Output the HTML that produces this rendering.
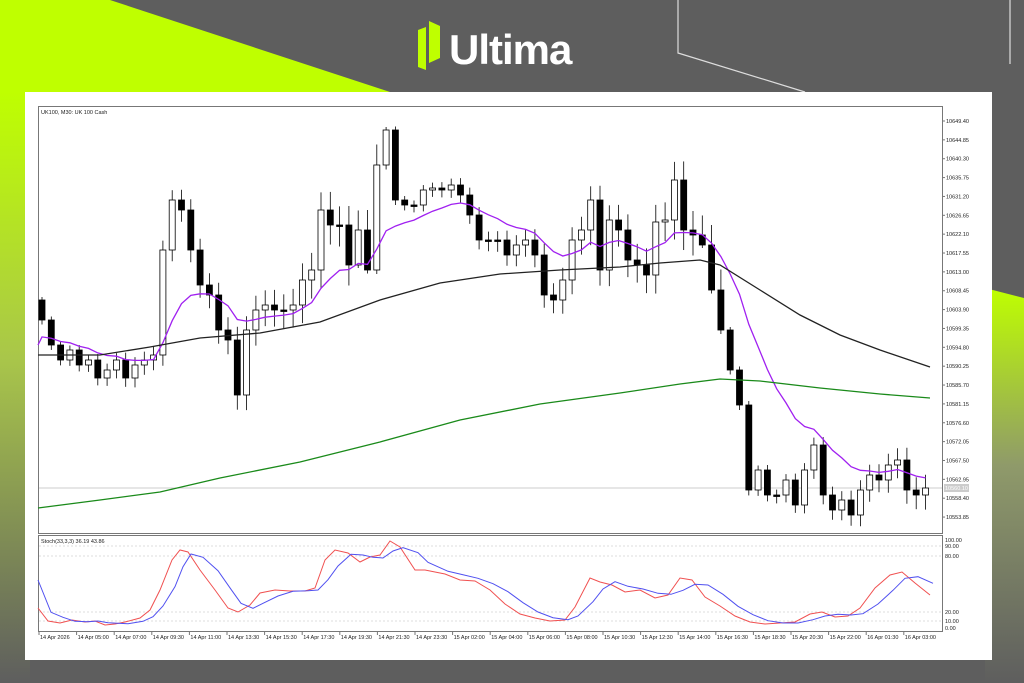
<!DOCTYPE html><html><head><meta charset="utf-8"><style>
html,body{margin:0;padding:0;width:1024px;height:683px;overflow:hidden;background:#5e5e5e}
svg{display:block}
text{font-family:"Liberation Sans",sans-serif}
</style></head><body>
<svg id="s" width="1024" height="683" xmlns="http://www.w3.org/2000/svg">
<defs>
<linearGradient id="gl" x1="0" y1="0" x2="0" y2="1"><stop offset="0" stop-color="#bfff00"/><stop offset="0.45" stop-color="#a9c64a"/><stop offset="1" stop-color="#5e5e5e"/></linearGradient>
<linearGradient id="gr" x1="0" y1="0" x2="0" y2="1"><stop offset="0" stop-color="#bfff00"/><stop offset="0.45" stop-color="#8f9a6a"/><stop offset="1" stop-color="#5e5e5e"/></linearGradient>
</defs>
<rect width="1024" height="683" fill="#5e5e5e"/>
<polygon points="0,0 110,0 390,92 0,92" fill="#bfff00"/>
<rect x="0" y="92" width="30" height="591" fill="url(#gl)"/>
<polygon points="985,288 1024,298 1024,683 985,683" fill="url(#gr)"/>
<polyline points="678,0 678,53 805,92" fill="none" stroke="#ddd" stroke-width="1.2"/>
<polyline points="1010,0 1010,64" fill="none" stroke="#ddd" stroke-width="1.2"/>
<polygon points="418,30 426,27 426,70 418,67" fill="#bfff00"/>
<polygon points="429,21 440,26 440,58 429,63" fill="#bfff00"/>
<text x="449" y="64" font-size="42" font-weight="bold" fill="#fff" letter-spacing="-1">Ultima</text>
<rect x="25" y="92" width="967" height="568" fill="#fff"/>
<rect x="38.5" y="106.5" width="904" height="427" fill="none" stroke="#777"/>
<rect x="38.5" y="535.5" width="904" height="96" fill="none" stroke="#777"/>
<text x="41" y="114" font-size="5.5" fill="#222">UK100, M30: UK 100 Cash</text>
<text x="41" y="543" font-size="5.5" fill="#222">Stoch(33,3,3) 36.19 43.86</text>
<line x1="39" y1="488" x2="942" y2="488" stroke="#bbb" stroke-width="0.8"/>
<g id="g"></g>
</svg>
<script>
(function(){
var g=document.getElementById('g'),h='';
var C=[320,345,360,350,365,360,378,370,360,378,365,360,355,250,200,210,250,285,295,330,340,395,330,310,305,310,310,305,280,270,210,225,225,265,230,270,165,130,200,205,205,190,188,190,185,195,215,240,240,240,255,245,240,255,295,300,280,240,230,200,270,220,230,260,265,275,222,220,180,230,235,245,290,330,370,405,490,470,495,495,480,505,470,445,495,510,500,515,490,475,480,465,460,490,495,488];
var prev=300,ema=340,pts=[];
function r(i){return ((i*7919)%37)/37;}
for(var i=0;i<C.length;i++){var x=42+i*9.3,o=prev,c=C[i];var t0=Math.min(o,c),b0=Math.max(o,c);if(b0-t0<1.5)b0=t0+1.5;
var hi=t0-3-r(i)*18,lo=b0+3+r(i+3)*18;
h+='<line x1="'+x+'" y1="'+hi+'" x2="'+x+'" y2="'+lo+'" stroke="#000" stroke-width="0.8"/>';
h+='<rect x="'+(x-3)+'" y="'+t0+'" width="6" height="'+(b0-t0)+'" fill="'+(c<o?'#fff':'#000')+'" stroke="#000" stroke-width="0.8"/>';
prev=c;ema=ema+(c-ema)*2/13;pts.push(x+','+ema.toFixed(1));}
h+='<polyline points="38,345 '+pts.join(' ')+'" fill="none" stroke="#a020f0" stroke-width="1.3"/>';
h+='<polyline points="38,355 100,355 150,347 200,338 260,333 320,322 380,300 440,283 500,274 560,270 620,267 660,263 700,260 720,265 760,290 800,315 840,335 880,350 930,367" fill="none" stroke="#222" stroke-width="1.3"/>';
h+='<polyline points="38,508 100,500 160,492 220,478 300,462 380,442 460,420 540,404 620,393 680,384 720,379 760,381 820,388 880,394 930,398" fill="none" stroke="#1a8a1a" stroke-width="1.3"/>';
var R=[[38,608],[48,621],[60,623],[72,620],[85,622],[95,621],[105,625],[115,624],[125,622],[140,618],[150,610],[160,590],[172,560],[180,550],[188,552],[200,570],[215,590],[228,608],[238,612],[250,605],[260,593],[275,590],[290,591],[305,591],[315,588],[325,560],[335,550],[348,553],[360,562],[370,557],[380,555],[390,541],[400,547],[415,570],[425,570],[445,574],[460,580],[475,581],[490,590],[505,604],[520,614],[535,618],[550,621],[565,620],[575,607],[590,578],[600,582],[612,585],[625,592],[640,590],[655,598],[668,595],[680,578],[692,580],[705,597],[720,606],[735,616],[750,622],[765,624],[780,623],[795,622],[810,614],[822,612],[835,617],[848,616],[860,608],[875,588],[890,575],[902,572],[915,583],[930,595]];
var rp=R.map(function(p){return p.join(',')}).join(' ');
var B=R.map(function(p,i){var a=R[Math.max(0,i-1)][1],b=R[Math.max(0,i-2)][1];return [p[0]+3,((p[1]+a+b)/3).toFixed(1)].join(',')});
B[0]='38,580';
[[540,'100.00'],[546,'90.00'],[556,'80.00'],[612,'20.00'],[621,'10.00'],[628,'0.00']].forEach(function(l){
if(l[1]!='100.00'&&l[1]!='0.00')h+='<line x1="39" y1="'+l[0]+'" x2="942" y2="'+l[0]+'" stroke="#bbb" stroke-width="0.6" stroke-dasharray="2,2"/>';
h+='<text x="945" y="'+(l[0]+2)+'" font-size="5.5" fill="#222">'+l[1]+'</text>';});
h+='<polyline points="'+rp+'" fill="none" stroke="#f05050" stroke-width="1"/>';
h+='<polyline points="'+B.join(' ')+'" fill="none" stroke="#5050f0" stroke-width="1"/>';
var P=['10649.40','10644.85','10640.30','10635.75','10631.20','10626.65','10622.10','10617.55','10613.00','10608.45','10603.90','10599.35','10594.80','10590.25','10585.70','10581.15','10576.60','10572.05','10567.50','10562.95','10558.40','10553.85'];
P.forEach(function(p,i){var y=121+i*18.86;h+='<line x1="942" y1="'+y+'" x2="945" y2="'+y+'" stroke="#777"/><text x="946" y="'+(y+2)+'" font-size="5.5" fill="#222">'+p+'</text>';});
h+='<rect x="944" y="484" width="25" height="8" fill="#ccc"/><text x="945" y="490" font-size="5.5" fill="#fff">10560.10</text>';
var T=['14 Apr 2026','14 Apr 05:00','14 Apr 07:00','14 Apr 09:30','14 Apr 11:00','14 Apr 13:30','14 Apr 15:30','14 Apr 17:30','14 Apr 19:30','14 Apr 21:30','14 Apr 23:30','15 Apr 02:00','15 Apr 04:00','15 Apr 06:00','15 Apr 08:00','15 Apr 10:30','15 Apr 12:30','15 Apr 14:00','15 Apr 16:30','15 Apr 18:30','15 Apr 20:30','15 Apr 22:00','16 Apr 01:30','16 Apr 03:00'];
T.forEach(function(t,i){var x=40+i*37.6;h+='<line x1="'+(x-1)+'" y1="632" x2="'+(x-1)+'" y2="635" stroke="#777"/><text x="'+x+'" y="639" font-size="5.5" fill="#222">'+t+'</text>';});
g.innerHTML=h;
})();
</script>
</body></html>
